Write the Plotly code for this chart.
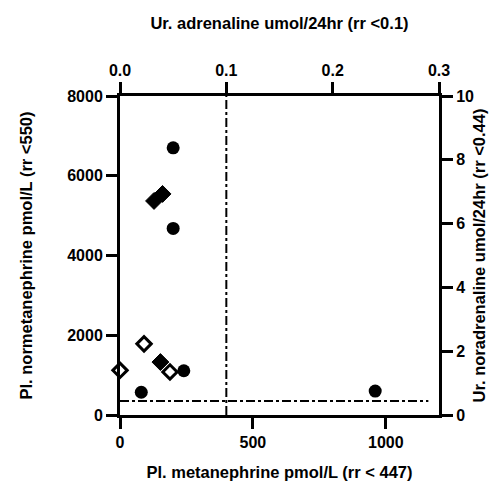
import plotly.graph_objects as go

# Plasma metanephrines (bottom / left axes)
pl_metanephrine = [200, 200, 80, 240, 960]
pl_normetanephrine = [6700, 4680, 570, 1110, 600]

# Urinary catecholamines (top / right axes), two groups
ur_adrenaline_a = [0.040, 0.032, 0.038]
ur_noradrenaline_a = [6.93, 6.71, 1.66]
ur_adrenaline_b = [0.0, 0.0226, 0.047]
ur_noradrenaline_b = [1.40, 2.23, 1.35]

# Reference range limits
adrenaline_limit = 0.1
noradrenaline_limit = 0.44

x_range = [0, 1200]
y_range = [0, 8000]
x2_range = [0, 0.3]
y2_range = [0, 10]

FONT = "Liberation Sans, Arial, sans-serif"
tick_font = dict(family=FONT, size=16, color="black", weight="bold")
title_font = dict(family=FONT, size=16.5, color="black", weight="bold")

fig = go.Figure()

# Reference limit lines
fig.add_trace(go.Scatter(
    x=[adrenaline_limit, adrenaline_limit], y=y2_range,
    xaxis="x2", yaxis="y2", mode="lines",
    line=dict(color="black", width=2, dash="dashdot"),
    hoverinfo="skip", showlegend=False))
fig.add_trace(go.Scatter(
    x=[0, 0.29], y=[noradrenaline_limit, noradrenaline_limit],
    xaxis="x2", yaxis="y2", mode="lines",
    line=dict(color="black", width=2, dash="dashdot"),
    hoverinfo="skip", showlegend=False))

fig.add_trace(go.Scatter(
    x=pl_metanephrine, y=pl_normetanephrine, mode="markers",
    marker=dict(symbol="circle", size=13, color="black"),
    showlegend=False, cliponaxis=False))
fig.add_trace(go.Scatter(
    x=ur_adrenaline_a, y=ur_noradrenaline_a, xaxis="x2", yaxis="y2",
    mode="markers",
    marker=dict(symbol="diamond", size=13, color="black",
                line=dict(color="black", width=1)),
    showlegend=False, cliponaxis=False))
fig.add_trace(go.Scatter(
    x=ur_adrenaline_b, y=ur_noradrenaline_b, xaxis="x2", yaxis="y2",
    mode="markers",
    marker=dict(symbol="diamond", size=11, color="white",
                line=dict(color="black", width=3)),
    showlegend=False, cliponaxis=False))

axis_common = dict(
    showline=True, linecolor="black", linewidth=3,
    ticks="outside", ticklen=11, tickwidth=3, tickcolor="black",
    showgrid=False, zeroline=False, tickfont=tick_font, automargin=False,
)

fig.update_layout(
    width=492, height=483,
    margin=dict(l=120, r=53, t=96, b=68),
    paper_bgcolor="white", plot_bgcolor="white",
    xaxis=dict(range=x_range, tickvals=[0, 500, 1000], side="bottom",
               title=dict(text="Pl. metanephrine pmol/L (rr < 447)",
                          font=title_font, standoff=17),
               **axis_common),
    yaxis=dict(range=y_range, tickvals=[0, 2000, 4000, 6000, 8000],
               title=dict(text="Pl. normetanephrine pmol/L (rr <550)",
                          font=title_font, standoff=31),
               **axis_common),
    xaxis2=dict(range=x2_range, tickvals=[0, 0.1, 0.2, 0.3],
                tickformat=".1f", overlaying="x", side="top",
                anchor="y",
                title=dict(text="Ur. adrenaline umol/24hr (rr <0.1)",
                           font=title_font, standoff=28),
                **axis_common),
    yaxis2=dict(range=y2_range, tickvals=[0, 2, 4, 6, 8, 10],
                overlaying="y", side="right", anchor="x",
                title=dict(text="Ur. noradrenaline umol/24hr (rr <0.44)",
                           font=title_font, standoff=1),
                **axis_common),
)

fig.write_html("out.html")
